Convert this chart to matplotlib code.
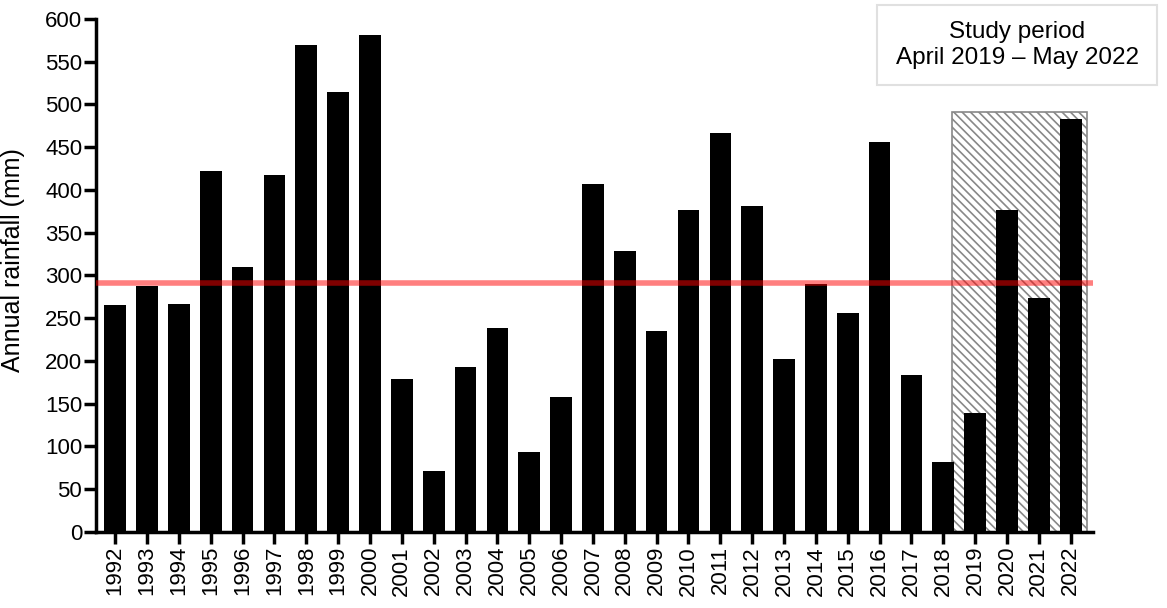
import matplotlib
matplotlib.use("Agg")
import matplotlib.pyplot as plt
from matplotlib.patches import Rectangle

plt.rcParams['font.family'] = ['Liberation Sans', 'DejaVu Sans']
plt.rcParams['hatch.linewidth'] = 1.2
plt.rcParams['hatch.color'] = '#222222'

years = [str(y) for y in range(1992, 2023)]
rainfall = [265, 288, 267, 422, 310, 418, 570, 515, 581, 179, 71, 193, 239, 94, 158,
            407, 329, 235, 377, 467, 381, 202, 290, 256, 456, 184, 82, 139, 377, 274, 483]
mean_rainfall = 291
study_top = 491
study_start_idx = 26.26
study_end_idx = 30.52
yticks = list(range(0, 601, 50))

fig = plt.figure(figsize=(11.67, 6.08), dpi=100)
ax = fig.add_axes([0.0823, 0.125, 0.8543, 0.844])

x = list(range(len(years)))
rect = Rectangle((study_start_idx, 0), study_end_idx - study_start_idx, study_top,
                 facecolor='white', edgecolor='#888888', hatch='\\\\\\\\', linewidth=1.2, zorder=1)
ax.add_patch(rect)
ax.bar(x, rainfall, width=0.68, color='black', zorder=2)
ax.axhline(mean_rainfall, color='#ff0000', alpha=0.5, linewidth=4, zorder=3)

ax.set_xlim(-0.6, 30.7)
ax.set_ylim(0, 600)
ax.set_yticks(yticks)
ax.set_xticks(x)
ax.set_xticklabels(years, rotation=90)
ax.spines['top'].set_visible(False)
ax.spines['right'].set_visible(False)
for s in ['left', 'bottom']:
    ax.spines[s].set_linewidth(2.5)
ax.tick_params(axis='both', width=2.5, length=8.5, labelsize=16, direction='out', pad=1.5)
ax.set_ylabel('Annual rainfall (mm)', fontsize=18)
ax.yaxis.set_label_coords(-0.071, 0.53)

box = Rectangle((0.7515, 0.8602), 0.2399, 0.1316, transform=fig.transFigure,
                facecolor='white', edgecolor='#e0e0e0', linewidth=1.5, zorder=5)
fig.patches.append(box)
fig.text(0.8715, 0.926, 'Study period\nApril 2019 – May 2022', ha='center', va='center',
         fontsize=17.5, linespacing=1.25, zorder=6)

fig.savefig('out.png', dpi=100)
